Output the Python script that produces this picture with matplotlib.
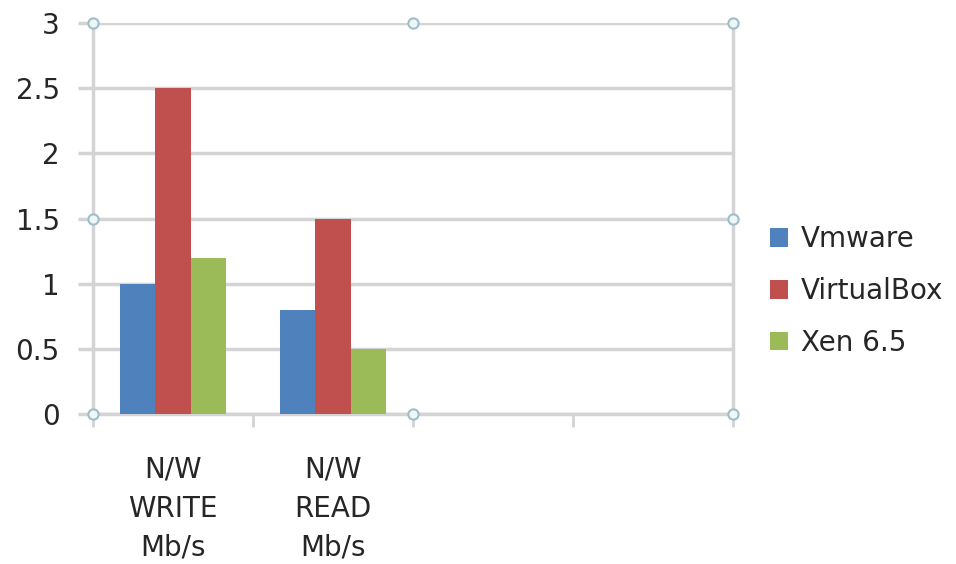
import matplotlib
matplotlib.use("Agg")
import matplotlib.pyplot as plt
import numpy as np

categories = ["N/W\nWRITE\nMb/s", "N/W\nREAD\nMb/s", "", ""]
series_names = ["Vmware", "VirtualBox", "Xen 6.5"]
vmware = [1.0, 0.8]
virtualbox = [2.5, 1.5]
xen = [1.2, 0.5]
colors = ["#4F81BD", "#C0504D", "#9BBB59"]
yticks = [0, 0.5, 1, 1.5, 2, 2.5, 3]
ytick_labels = ["0", "0.5", "1", "1.5", "2", "2.5", "3"]

plt.rcParams['font.family'] = ['DejaVu Sans']
fig = plt.figure(figsize=(9.56, 5.64), dpi=100)
ax = fig.add_axes([93/956, 1-414/564, (733-93)/956, (414-23)/564])

grid_c = "#d4d4d4"
text_c = "#262626"
n = len(categories)
x = np.arange(n)
w = 0.219
for i, (vals, name, c) in enumerate(zip([vmware, virtualbox, xen], series_names, colors)):
    xs = np.arange(len(vals)) + (i - 1) * w
    ax.bar(xs, vals, width=w, color=c, label=name, zorder=3, linewidth=0)

ax.set_xlim(-0.5, n - 0.5)
ax.set_ylim(0, 3)
ax.set_yticks(yticks)
ax.set_yticklabels(ytick_labels, fontsize=20, color=text_c)
ax.yaxis.grid(True, color=grid_c, linewidth=2.5, zorder=0)
ax.set_axisbelow(True)

# category labels centered in slots, tick marks at boundaries
ax.set_xticks(x)
ax.set_xticklabels(categories, fontsize=20, color=text_c, linespacing=1.5)
ax.tick_params(axis='x', length=0, pad=30)
ax.set_xticks(np.arange(n + 1) - 0.5, minor=True)
ax.tick_params(axis='x', which='minor', length=9, width=2, color=grid_c, direction='out')
ax.tick_params(axis='y', length=11, width=2.5, color=grid_c, pad=13)

for s in ['left', 'bottom', 'right', 'top']:
    ax.spines[s].set_color(grid_c)
    ax.spines[s].set_linewidth(2.5)
ax.spines['top'].set_visible(False)

# selection handles around plot area
hx = [0, 0.5, 1, 0, 1, 0, 0.5, 1]
hy = [0, 0, 0, 0.5, 0.5, 1, 1, 1]
ax.scatter(hx, hy, transform=ax.transAxes, s=55, facecolor="#eef6f8",
           edgecolor="#9fbfc8", linewidth=1.5, zorder=5, clip_on=False)

leg = fig.legend(loc='center left', bbox_to_anchor=(745/956, 1-291/564),
                 frameon=False, fontsize=20, handlelength=0.65, handleheight=0.65,
                 handletextpad=0.45, labelspacing=0.85, labelcolor=text_c)

fig.savefig("out.png", dpi=100)
